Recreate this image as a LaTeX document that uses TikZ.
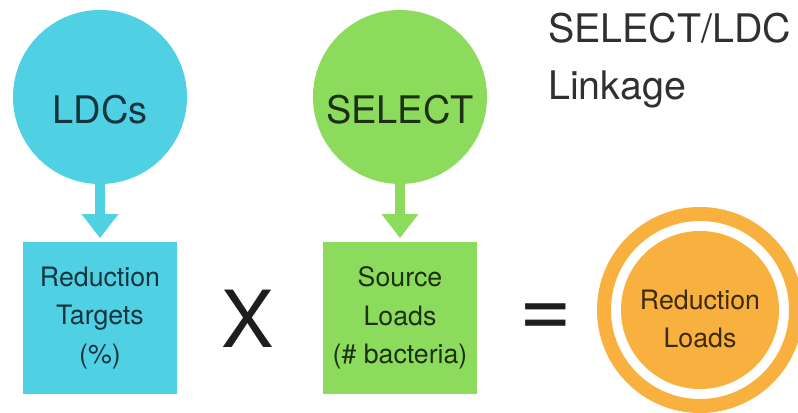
\documentclass[tikz,border=0pt]{standalone}
\usepackage{fontspec}
\setmainfont{TeX Gyre Heros}
\usetikzlibrary{arrows.meta,positioning}
\definecolor{ldccyan}{RGB}{80,208,227}
\definecolor{ldctext}{RGB}{22,52,62}
\definecolor{selgreen}{RGB}{141,219,92}
\definecolor{seltext}{RGB}{28,48,18}
\definecolor{resorange}{RGB}{248,177,62}
\definecolor{restext}{RGB}{62,42,12}
\definecolor{signo}{RGB}{30,30,30}
\definecolor{titulo}{RGB}{48,48,48}
\begin{document}
\begin{tikzpicture}[x=0.025cm,y=0.025cm,
    fuente/.style={circle,minimum size=4.35cm,inner sep=0pt,text height=38pt,text depth=0pt,font=\fontsize{27}{30}\selectfont},
    caja/.style={minimum width=3.825cm,minimum height=3.775cm,inner sep=0pt,align=center,font=\fontsize{19}{27.4}\selectfont},
    flecha/.style={line width=0.25cm,-{Triangle[width=0.875cm,length=0.6cm]},shorten >=0.1cm},
    signo/.style={inner sep=0pt,text=signo,font=\fontsize{56}{60}\selectfont},
    titulo/.style={inner sep=0pt,anchor=base west,text=titulo,font=\fontsize{28}{30}\selectfont}]
    \useasboundingbox (0,0) rectangle (798,413);
    % Círculos
    \node[fuente,fill=ldccyan,text=ldctext] (ldc) at (100,316) {LDCs};
    \node[fuente,fill=selgreen,text=seltext] (select) at (400,316) {SELECT};
    % Cajas
    \node[caja,fill=ldccyan,text=ldctext] (targets) at (100,95) {Reduction\\Targets\\(\%)};
    \node[caja,fill=selgreen,text=seltext] (loads) at (400,95) {Source\\Loads\\(\# bacteria)};
    % Flechas
    \draw[flecha,ldccyan] (ldc) -- (targets);
    \draw[flecha,selgreen] (select) -- (loads);
    % Operadores
    \node[signo] (por) at (248,94) {X};
    \node[signo,font=\fontsize{64}{66}\selectfont] (igual) at (546,92) {=};
    % Resultado
    \node[caja,circle,minimum size=3.95cm,fill=resorange,text=restext] (reduction) at (700,103) {};
    \node[caja,minimum size=0pt,text=restext] (reductiontext) at (700,94) {Reduction\\Loads};
    \draw[resorange,line width=0.35cm] (reduction.center) circle (2.4cm);
    % Título
    \node[titulo] (linea1) at (548,370) {SELECT/LDC};
    \node[titulo] (linea2) at (548,313) {Linkage};
\end{tikzpicture}
\end{document}
